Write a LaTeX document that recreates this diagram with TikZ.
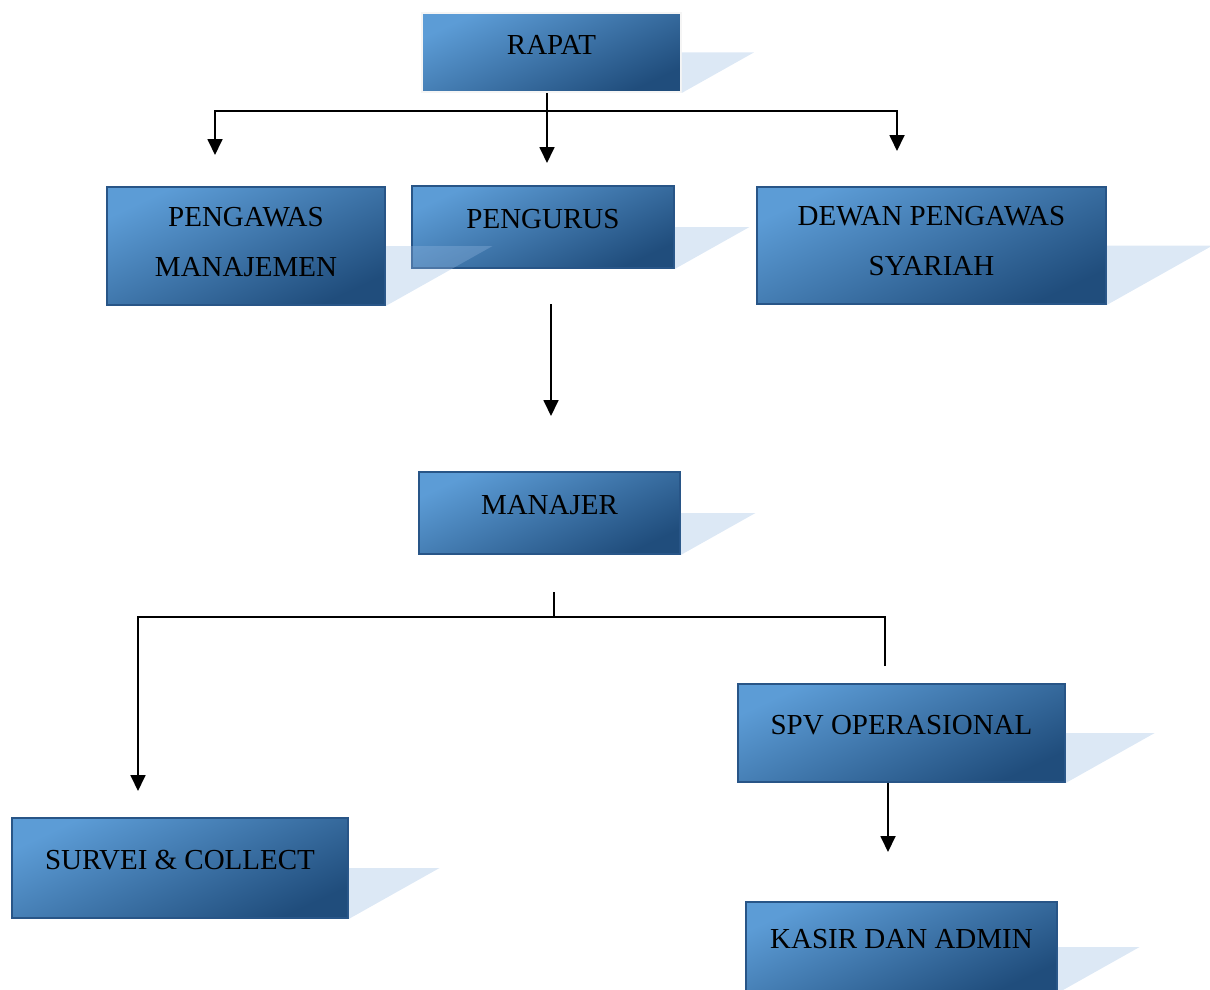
\documentclass[tikz,border=0pt]{standalone}
\usepackage{fontspec}
\setmainfont{Liberation Serif}
\usepackage{tikz}
\usetikzlibrary{arrows.meta}
\usetikzlibrary{calc}

\definecolor{boxlight}{RGB}{92,156,214}
\definecolor{boxdark}{RGB}{32,77,124}
\definecolor{boxline}{RGB}{40,85,135}
\definecolor{shadowblue}{RGB}{150,185,225}

% light triangle to the lower right of a box
\newcommand\boxshade[1]{%
  \fill[box shadow] let \p1=(#1.north east), \p2=(#1.south east) in
    (\x2,{(\y1+\y2)/2}) -- ++({0.89*(\y1-\y2)},0) -- (\p2) -- cycle;}

\begin{document}
\begin{tikzpicture}[x=1pt, y=-1pt,
    org box/.style={rectangle, draw=boxline, line width=1.8pt,
      top color=boxlight, bottom color=boxdark, shading angle=25,
      align=center, inner sep=0pt,
      font=\fontsize{29}{50}\selectfont,
      execute at end node={\rule[-#1]{0pt}{0pt}}},
    org box/.default=16pt,
    box shadow/.style={fill=shadowblue, fill opacity=0.33},
    link/.style={line width=1.8pt},
    >={Triangle[length=16pt,width=15pt]},
    ]
  \useasboundingbox (0,0) rectangle (1210,990);

  \node[org box, draw=gray!8, minimum width=259, minimum height=79] (rapat) at (551.5,52.5) {RAPAT};
  \boxshade{rapat}
  \node[org box, minimum width=262, minimum height=82] (pengurus) at (543,227) {PENGURUS};
  \boxshade{pengurus}
  \node[org box=9pt, minimum width=278, minimum height=118] (pengawas) at (246,246) {PENGAWAS\\MANAJEMEN};
  \boxshade{pengawas}
  \node[org box=9pt, minimum width=349, minimum height=117] (dewan) at (931.5,245.5) {DEWAN PENGAWAS\\SYARIAH};
  \boxshade{dewan}
  \node[org box, minimum width=261, minimum height=82] (manajer) at (549.5,513) {MANAJER};
  \boxshade{manajer}
  \node[org box, minimum width=327, minimum height=98] (spv) at (901.5,733) {SPV OPERASIONAL};
  \boxshade{spv}
  \node[org box, minimum width=336, minimum height=100] (survei) at (180,868) {SURVEI \& COLLECT};
  \boxshade{survei}
  \node[org box, minimum width=311, minimum height=90] (kasir) at (901.5,947) {KASIR DAN ADMIN};
  \boxshade{kasir}

  \coordinate (bus1L) at (215,111);
  \coordinate (bus1R) at (897,111);
  \coordinate (tipL) at (215,155);
  \coordinate (tipM) at (547,163);
  \coordinate (tipR) at (897,151);
  \draw[link, <->] (tipL) -- (bus1L) -- (bus1R) -- (tipR);
  \draw[link, ->] (rapat.south -| tipM) -- (tipM);

  \coordinate (pgTail) at (551,304);
  \coordinate (mjTip) at (551,416);
  \draw[link, ->] (pgTail) -- (mjTip);

  \coordinate (mjTick) at (554,592);
  \coordinate (bus2L) at (138,617);
  \coordinate (bus2R) at (885,617);
  \coordinate (svTip) at (138,791);
  \coordinate (spvTop) at (885,666);
  \draw[link] (mjTick) -- (mjTick |- bus2L);
  \draw[link, ->] (spvTop) -- (bus2R) -- (bus2L) -- (svTip);

  \coordinate (ksTip) at (888,852);
  \draw[link, ->] (spv.south -| ksTip) -- (ksTip);
\end{tikzpicture}
\end{document}
